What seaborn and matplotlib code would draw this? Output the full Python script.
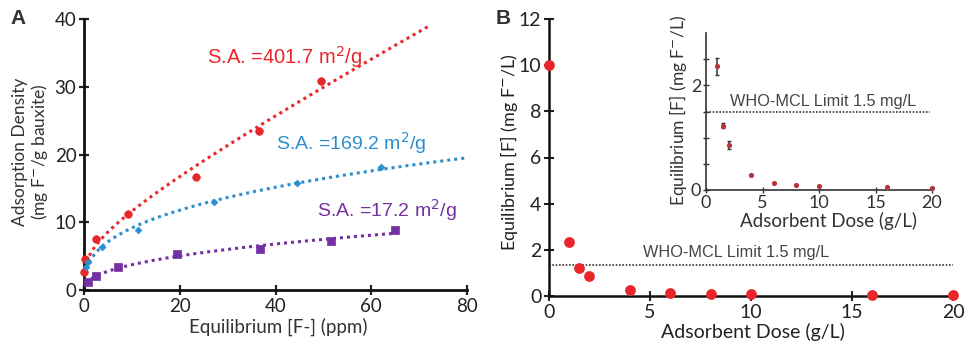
import numpy as np
import pandas as pd
import matplotlib
matplotlib.use("Agg")
import matplotlib.pyplot as plt
import seaborn as sns

# ---------------- data ----------------
# Panel A: adsorption isotherms
red_x = [0.1, 0.3, 2.6, 9.1, 23.4, 36.5, 49.4]
red_y = [2.7, 4.6, 7.5, 11.2, 16.7, 23.5, 30.9]
blue_x = [0.5, 0.8, 3.8, 11.3, 27.2, 44.4, 62.1]
blue_y = [3.4, 4.2, 6.4, 8.9, 13.0, 15.8, 18.1]
purple_x = [0.8, 2.6, 7.0, 19.4, 36.7, 51.5, 64.9]
purple_y = [1.2, 2.0, 3.4, 5.3, 6.0, 7.3, 8.8]
sa_labels = ["S.A. =401.7 m$^2$/g", "S.A. =169.2 m$^2$/g", "S.A. =17.2 m$^2$/g"]

# Panel B: equilibrium fluoride vs adsorbent dose
dose = [0, 1, 1.5, 2, 4, 6, 8, 10, 16, 20]
conc = [10.0, 2.36, 1.23, 0.86, 0.28, 0.14, 0.10, 0.07, 0.05, 0.03]
conc_err = [0, 0.17, 0.05, 0.08, 0, 0, 0, 0, 0, 0]
who_limit_main = 1.33
who_limit_inset = 1.5
who_label = "WHO-MCL Limit 1.5 mg/L"

RED = "#e8262b"
BLUE = "#2b8fcf"
PURPLE = "#7431a3"
INSET_RED = "#b8323c"

sns.set_theme(style="ticks")
plt.rcParams["font.family"] = ["Lato", "DejaVu Sans"]

W, H = 968, 346
fig = plt.figure(figsize=(W / 100, H / 100), dpi=100)


def fx(px):
    return px / W


def fy(py):
    return 1 - py / H


def axes_from_px(l, t, r, b):
    return fig.add_axes([fx(l), fy(b), (r - l) / W, (b - t) / H])


def trend_power(xs, ys, xmax):
    # Freundlich power-law trendline y = K x^n, least squares in y
    X = np.asarray(xs, float)
    Y = np.asarray(ys, float)
    best = None
    for n in np.linspace(0.1, 1.2, 1101):
        xn = X ** n
        K = (xn @ Y) / (xn @ xn)
        err = np.sum((Y - K * xn) ** 2)
        if best is None or err < best[0]:
            best = (err, K, n)
    _, K, n = best
    xx = np.linspace(0.0, xmax, 400)
    return xx, K * xx ** n


def trend_rootlin(xs, ys, xmax):
    # trendline y = a x^0.25 + b x, least squares in y
    X = np.asarray(xs, float)
    Y = np.asarray(ys, float)
    A = np.column_stack([X ** 0.25, X])
    coef, *_ = np.linalg.lstsq(A, Y, rcond=None)
    xx = np.linspace(0.0, xmax, 400)
    return xx, coef[0] * xx ** 0.25 + coef[1] * xx


# ---------------- Panel A ----------------
axA = axes_from_px(84, 19, 467, 290)
series = [
    (red_x, red_y, RED, "o", 30, 72, trend_rootlin),
    (blue_x, blue_y, BLUE, "D", 12, 80, trend_power),
    (purple_x, purple_y, PURPLE, "s", 30, 65, trend_power),
]
for xs, ys, col, mk, ms, xmax, fit in series:
    xx, yy = fit(xs, ys, xmax)
    sns.lineplot(x=xx, y=yy, ax=axA, color=col, linestyle=(0, (1, 1.3)),
                 linewidth=2.2, sort=False)
    sns.scatterplot(x=xs, y=ys, ax=axA, color=col, marker=mk, s=ms,
                    edgecolor=col, linewidth=0.5, zorder=5, clip_on=False)

axA.set_xlim(0, 80)
axA.set_ylim(0, 40)
axA.set_xticks([0, 20, 40, 60, 80])
axA.set_yticks([0, 10, 20, 30, 40])
axA.tick_params(direction="inout", length=7, width=1.6, labelsize=13.5,
                colors="#222222", pad=2)
for s in ["top", "right"]:
    axA.spines[s].set_visible(False)
for s in ["left", "bottom"]:
    axA.spines[s].set_linewidth(2)
    axA.spines[s].set_color("#111111")
axA.set_xlabel("")
axA.set_ylabel("")

axA.text(25.7, 34.4, sa_labels[0], color=RED, fontsize=14.5,
         family="Liberation Sans", va="center")
axA.text(40.2, 21.7, sa_labels[1], color=BLUE, fontsize=14,
         family="Liberation Sans", va="center")
axA.text(48.7, 11.8, sa_labels[2], color=PURPLE, fontsize=14,
         family="Liberation Sans", va="center")

fig.text(fx(18), fy(18), "A", fontsize=15, fontweight="bold", color="#333333",
         ha="center", va="center", family="Liberation Sans")
fig.text(fx(31), fy(152), "Adsorption Density\n(mg F$^{-}$/g bauxite)",
         rotation=90, ha="center", va="center", fontsize=12.5,
         color="#333333", linespacing=1.05)
fig.text(fx(278), fy(327), "Equilibrium [F-] (ppm)", ha="center", va="center",
         fontsize=13.5, color="#333333")

# ---------------- Panel B ----------------
axB = axes_from_px(549, 19, 953, 296)
dfB = pd.DataFrame({"dose": dose, "conc": conc, "err": conc_err})
axB.errorbar(dfB["dose"], dfB["conc"], yerr=dfB["err"], fmt="none",
             ecolor="#444444", elinewidth=1, capsize=0, zorder=4)
sns.scatterplot(data=dfB, x="dose", y="conc", ax=axB, color=RED, s=60,
                edgecolor=RED, linewidth=0, zorder=5, clip_on=False)
axB.axhline(who_limit_main, color="#333333", linestyle=(0, (1, 1)),
            linewidth=1.2, zorder=2)
axB.text(4.65, 1.9, who_label, fontsize=11.7, family="Liberation Sans",
         color="#444444", va="center")
axB.set_xlim(0, 20)
axB.set_ylim(0, 12)
axB.set_xticks([0, 5, 10, 15, 20])
axB.set_yticks([0, 2, 4, 6, 8, 10, 12])
axB.tick_params(direction="inout", length=7, width=1.5, labelsize=14,
                colors="#222222", pad=2)
for s in ["top", "right"]:
    axB.spines[s].set_visible(False)
for s in ["left", "bottom"]:
    axB.spines[s].set_linewidth(1.8)
    axB.spines[s].set_color("#111111")
axB.set_xlabel("")
axB.set_ylabel("")

fig.text(fx(503), fy(18), "B", fontsize=15, fontweight="bold", color="#333333",
         ha="center", va="center", family="Liberation Sans")
fig.text(fx(509), fy(152), "Equilibrium [F] (mg F$^{-}$/L)", rotation=90,
         ha="center", va="center", fontsize=13, color="#222222")
fig.text(fx(753), fy(332), "Adsorbent Dose (g/L)", ha="center", va="center",
         fontsize=14, color="#222222")

# ---------------- Inset ----------------
axI = axes_from_px(706, 33, 932, 190)
dfI = dfB[dfB["dose"] > 0]
axI.errorbar(dfI["dose"], dfI["conc"], yerr=dfI["err"], fmt="none",
             ecolor="#333333", elinewidth=1.1, capsize=1.5, zorder=4)
sns.scatterplot(data=dfI, x="dose", y="conc", ax=axI, color=INSET_RED, s=14,
                edgecolor=INSET_RED, linewidth=0, zorder=5, clip_on=False)
axI.axhline(who_limit_inset, color="#333333", linestyle=(0, (1, 1)),
            linewidth=1.2, zorder=2, xmax=0.99)
axI.text(2.1, 1.70, who_label, fontsize=11.7, family="Liberation Sans",
         color="#444444", va="center")
axI.set_xlim(0, 20)
axI.set_ylim(0, 3.0)
axI.set_xticks([0, 5, 10, 15, 20])
axI.set_yticks([0, 0.5, 1, 1.5, 2, 2.5])
axI.set_yticklabels(["0", "", "", "", "2", ""])
axI.tick_params(direction="inout", length=5, width=1, labelsize=13,
                colors="#333333", pad=1)
for s in ["top", "right"]:
    axI.spines[s].set_visible(False)
for s in ["left", "bottom"]:
    axI.spines[s].set_linewidth(1.2)
    axI.spines[s].set_color("#333333")
axI.set_xlabel("")
axI.set_ylabel("")
axI.patch.set_alpha(0)
fig.text(fx(678), fy(110), "Equilibrium [F] (mg F$^{-}$/L)", rotation=90,
         ha="center", va="center", fontsize=12.5, color="#333333")
fig.text(fx(829), fy(221), "Adsorbent Dose (g/L)", ha="center", va="center",
         fontsize=13.5, color="#333333")

fig.savefig("out.png", dpi=100)
